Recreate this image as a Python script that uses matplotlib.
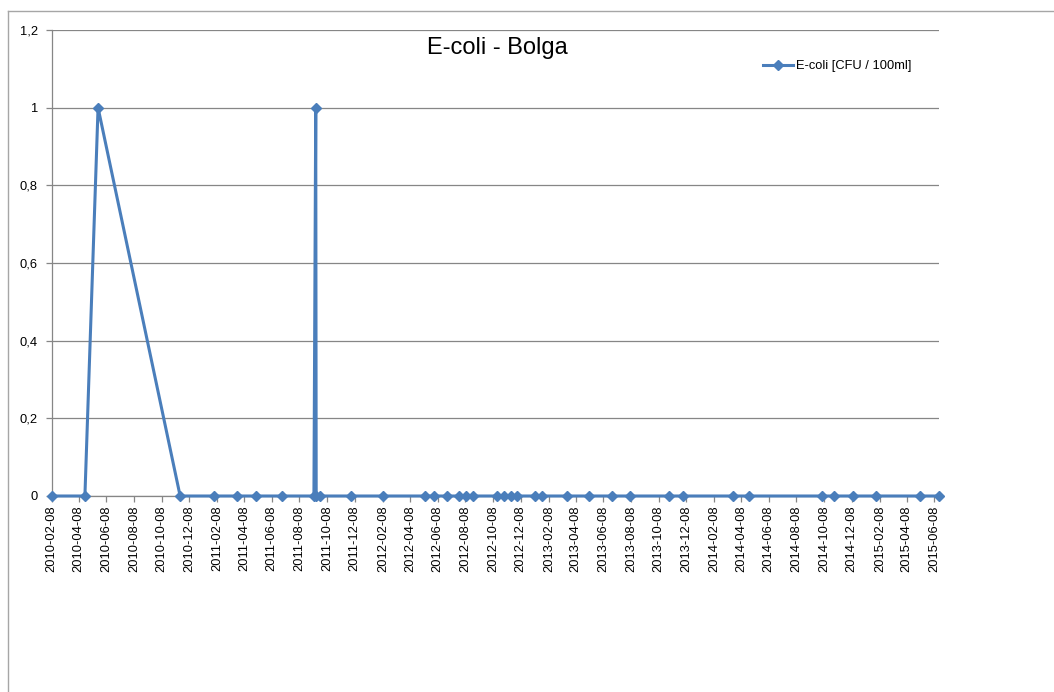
import matplotlib
matplotlib.use("Agg")
import matplotlib.pyplot as plt
import matplotlib.dates as mdates
from matplotlib.lines import Line2D
import pandas as pd

plt.rcParams['font.family'] = ['Liberation Sans', 'DejaVu Sans']

# Sampling dates and E-coli counts
sample_dates = [
    "2010-02-08", "2010-04-22", "2010-05-21", "2010-11-18", "2011-02-01",
    "2011-03-24", "2011-05-04", "2011-07-01", "2011-09-09", "2011-09-13",
    "2011-09-14", "2011-09-22", "2011-11-29", "2012-02-09", "2012-05-11",
    "2012-05-31", "2012-06-29", "2012-07-26", "2012-08-09", "2012-08-24",
    "2012-10-17", "2012-11-01", "2012-11-16", "2012-11-29", "2013-01-08",
    "2013-01-24", "2013-03-21", "2013-05-07", "2013-06-28", "2013-08-07",
    "2013-11-01", "2013-12-01", "2014-03-20", "2014-04-25", "2014-10-03",
    "2014-10-30", "2014-12-11", "2015-01-30", "2015-05-07", "2015-06-19",
]
ecoli = [
    0, 0, 1, 0, 0,
    0, 0, 0, 0, 1,
    0, 0, 0, 0, 0,
    0, 0, 0, 0, 0,
    0, 0, 0, 0, 0,
    0, 0, 0, 0, 0,
    0, 0, 0, 0, 0,
    0, 0, 0, 0, 0,
]
series_label = "E-coli [CFU / 100ml]"
chart_title = "E-coli - Bolga"
y_ticks = [0, 0.2, 0.4, 0.6, 0.8, 1.0, 1.2]
y_tick_labels = ["0", "0,2", "0,4", "0,6", "0,8", "1", "1,2"]

dates = pd.to_datetime(sample_dates)

W, H = 1054, 692
fig = plt.figure(figsize=(W / 100, H / 100), dpi=100)
ax = fig.add_axes([51.8 / W, 1 - 496 / H, (939.3 - 51.8) / W, (496 - 30) / H])

blue = "#4A7EBB"
grid_c = "#868686"

ax.plot(dates, ecoli, color=blue, lw=2.2, marker="D", markersize=5.2,
        markerfacecolor=blue, markeredgecolor=blue, label=series_label,
        zorder=3, clip_on=False)

ax.set_xlim(dates[0], dates[-1])
ax.set_ylim(0, 1.2)
ax.set_yticks(y_ticks)
ax.set_yticklabels(y_tick_labels)

ax.xaxis.set_major_locator(mdates.MonthLocator(bymonth=[2, 4, 6, 8, 10, 12], bymonthday=8))
ax.xaxis.set_major_formatter(mdates.DateFormatter("%Y-%m-%d"))
for lbl in ax.get_xticklabels():
    lbl.set_rotation(90)

ax.yaxis.grid(True, color=grid_c, lw=0.9)
ax.set_axisbelow(True)
for s in ("top", "right"):
    ax.spines[s].set_visible(False)
for s in ("left", "bottom"):
    ax.spines[s].set_color(grid_c)
    ax.spines[s].set_linewidth(0.9)

ax.tick_params(axis="both", colors=grid_c, labelcolor="black", labelsize=9.3,
               length=4, width=0.9, direction="out")
ax.tick_params(axis="x", pad=3)
ax.tick_params(axis="y", pad=6)

fig.text(497 / W, 1 - 48 / H, chart_title, fontsize=17, ha="center", va="center")

fig.legend(loc="center left", bbox_to_anchor=(763 / W, 1 - 66 / H),
           bbox_transform=fig.transFigure, frameon=False, fontsize=9.3,
           handlelength=2.3, handletextpad=0.25, borderpad=0, borderaxespad=0)

# Outer chart frame
frame_c = "#A6A6A6"
fig.add_artist(Line2D([7.5 / W, 1.0], [1 - 10.5 / H, 1 - 10.5 / H],
                      transform=fig.transFigure, color=frame_c, lw=1.0))
fig.add_artist(Line2D([7.5 / W, 7.5 / W], [1 - 10.5 / H, 0.0],
                      transform=fig.transFigure, color=frame_c, lw=1.0))

fig.savefig("out.png", dpi=100)
